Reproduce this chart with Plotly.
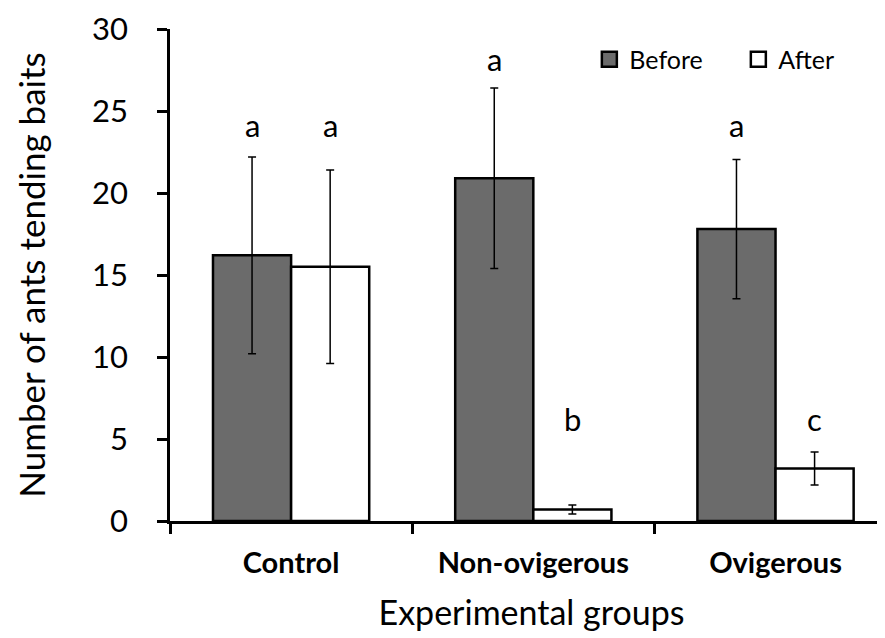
import plotly.graph_objects as go

categories = ["Control", "Non-ovigerous", "Ovigerous"]
before = [16.2, 20.9, 17.8]
before_err = [6.0, 5.5, 4.25]
after = [15.5, 0.7, 3.2]
after_err = [5.9, 0.28, 1.0]
letters_before = ["a", "a", "a"]
letters_after = ["a", "b", "c"]
letter_y_before = [24.15, 28.2, 24.15]
letter_y_after = [24.15, 6.25, 6.25]
y_ticks = [0, 5, 10, 15, 20, 25, 30]

FONT = "Lato"
BAR_W = 0.3225
GRAY = "#6b6b6b"

fig = go.Figure()
fig.add_trace(go.Bar(
    name="Before", x=categories, y=before, showlegend=False,
    marker=dict(color=GRAY, line=dict(color="black", width=2.5)),
    error_y=dict(type="data", array=before_err, color="black", thickness=1.5, width=4),
))
fig.add_trace(go.Bar(
    name="After", x=categories, y=after, showlegend=False,
    marker=dict(color="white", line=dict(color="black", width=2.5)),
    error_y=dict(type="data", array=after_err, color="black", thickness=1.5, width=4),
))
# legend entries with square swatches
fig.add_trace(go.Scatter(
    name="Before", x=[None], y=[None], mode="markers",
    marker=dict(symbol="square", size=15, color=GRAY, line=dict(color="black", width=2.5)),
))
fig.add_trace(go.Scatter(
    name="After", x=[None], y=[None], mode="markers",
    marker=dict(symbol="square", size=15, color="white", line=dict(color="black", width=2.5)),
))

annotations = []
for i in range(len(categories)):
    annotations.append(dict(x=i - BAR_W / 2, y=letter_y_before[i], xref="x", yref="y",
                            text=letters_before[i], showarrow=False, yanchor="middle",
                            font=dict(family=FONT, size=31, color="black")))
    annotations.append(dict(x=i + BAR_W / 2, y=letter_y_after[i], xref="x", yref="y",
                            text=letters_after[i], showarrow=False, yanchor="middle",
                            font=dict(family=FONT, size=31, color="black")))

fig.update_layout(
    width=885, height=638,
    margin=dict(l=162, r=0, t=21, b=125, autoexpand=False),
    paper_bgcolor="white", plot_bgcolor="white",
    barmode="group", bargap=0.355, bargroupgap=0,
    font=dict(family=FONT, color="black"),
    showlegend=True,
    legend=dict(orientation="h", x=0.58, xanchor="left", y=0.938, yanchor="middle",
                font=dict(family=FONT, size=25, color="black"),
                entrywidth=104, entrywidthmode="pixels", itemwidth=30,
                bgcolor="rgba(0,0,0,0)", traceorder="normal"),
    annotations=annotations,
    xaxis=dict(
        type="category", range=[-0.5, 2.485], automargin=False,
        showline=True, linecolor="black", linewidth=2.5,
        ticks="outside", tickson="boundaries", ticklen=10, tickwidth=2.5, tickcolor="black",
        tickfont=dict(family=FONT, size=29, color="black", weight="bold"),
        ticklabelstandoff=14, ticklabeloverflow="allow",
        showgrid=False, zeroline=False,
        title=dict(text="Experimental groups", font=dict(family=FONT, size=34, color="black"), standoff=24),
    ),
    yaxis=dict(
        range=[0, 30], tickvals=y_ticks, automargin=False,
        showline=True, linecolor="black", linewidth=2.5,
        ticks="outside", ticklen=10, tickwidth=2.5, tickcolor="black",
        tickfont=dict(family=FONT, size=31, color="black"),
        ticklabelstandoff=23, ticklabeloverflow="allow",
        showgrid=False, zeroline=False,
        title=dict(text="Number of ants tending baits", font=dict(family=FONT, size=35, color="black"), standoff=36),
    ),
)

fig.write_html("out.html")
